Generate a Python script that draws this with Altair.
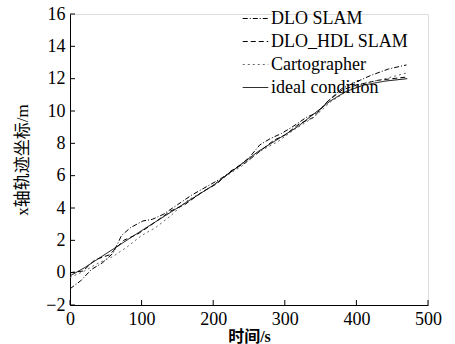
import altair as alt
import pandas as pd

# Trajectory x-coordinate over time for each method
series_names = ["DLO SLAM", "DLO_HDL SLAM", "Cartographer", "ideal condition"]

ideal_t = [0, 20, 100, 200, 263, 317, 363, 385, 410, 440, 471]
ideal_v = [-0.2, 0.3, 2.6, 5.4, 7.5, 9.0, 10.6, 11.2, 11.6, 11.85, 12.0]

dlo_t = [0, 15, 30, 45, 60, 72, 85, 102, 115, 130, 150, 170, 190, 210, 230,
         250, 265, 280, 295, 310, 330, 345, 360, 380, 400, 420, 445, 470]
dlo_v = [-1.0, -0.5, 0.2, 0.6, 1.2, 2.3, 2.8, 3.2, 3.3, 3.6, 4.2, 4.8, 5.3,
         5.8, 6.4, 7.1, 7.9, 8.3, 8.6, 9.0, 9.6, 9.9, 10.6, 11.4, 11.8, 12.2,
         12.6, 12.85]

hdl_t = [0, 18, 35, 55, 75, 95, 115, 140, 160, 185, 205, 225, 245, 265, 285,
         300, 320, 340, 360, 380, 400, 430, 470]
hdl_v = [0.0, 0.1, 0.8, 1.1, 2.0, 2.4, 3.0, 3.8, 4.2, 5.0, 5.5, 6.3, 6.8,
         7.5, 8.2, 8.5, 9.2, 9.6, 10.6, 11.3, 11.6, 11.9, 12.1]

carto_t = [0, 20, 40, 60, 80, 100, 120, 140, 165, 190, 215, 240, 265, 290,
           315, 340, 365, 390, 410, 440, 470]
carto_v = [-0.3, 0.1, 0.6, 1.0, 1.6, 2.3, 2.8, 3.5, 4.5, 5.1, 5.9, 6.6, 7.5,
           8.1, 8.9, 9.6, 10.6, 11.3, 11.7, 12.0, 12.35]

x_ticks = [0, 100, 200, 300, 400, 500]
y_ticks = [-2, 0, 2, 4, 6, 8, 10, 12, 14, 16]

rows = []
for name, ts, vs in [
    ("DLO SLAM", dlo_t, dlo_v),
    ("DLO_HDL SLAM", hdl_t, hdl_v),
    ("Cartographer", carto_t, carto_v),
    ("ideal condition", ideal_t, ideal_v),
]:
    for i, (t, v) in enumerate(zip(ts, vs)):
        rows.append({"series": name, "t": t, "v": v, "order": i})
df = pd.DataFrame(rows)

W, H = 358, 291
SERIF = "Liberation Serif"
MIXED = "Liberation Serif, Noto Sans CJK SC"

x_scale = alt.Scale(domain=[0, 500], nice=False)
y_scale = alt.Scale(domain=[-2, 16], nice=False)

x_axis = alt.Axis(values=x_ticks, labelFont=SERIF, labelFontSize=18,
                  title="时间/s", titleFont=MIXED,
                  titleFontSize=16, titleFontWeight="bold", titlePadding=0)
y_axis = alt.Axis(values=y_ticks, labelFont=SERIF, labelFontSize=18,
                  title="x轴轨迹坐标/m", titleFont=MIXED,
                  titleFontSize=17, titleFontWeight="normal", titlePadding=14)

lines = alt.Chart(df).mark_line().encode(
    x=alt.X("t:Q", scale=x_scale, axis=x_axis),
    y=alt.Y("v:Q", scale=y_scale, axis=y_axis),
    order="order:Q",
    color=alt.Color("series:N",
                    scale=alt.Scale(domain=series_names,
                                    range=["black", "black", "#666666", "black"]),
                    legend=alt.Legend(title=None, orient="none", legendX=172,
                                      legendY=-9, symbolType="stroke",
                                      symbolSize=650, labelFont=SERIF,
                                      labelFontSize=18, labelColor="black",
                                      labelOffset=2, rowPadding=-1, padding=0,
                                      symbolStrokeWidth=1.5)),
    strokeDash=alt.StrokeDash("series:N",
                              scale=alt.Scale(domain=series_names,
                                              range=[[5, 2, 1, 2], [5, 3], [2, 3], [1, 0]]),
                              legend=None),
    strokeWidth=alt.StrokeWidth("series:N",
                                scale=alt.Scale(domain=series_names,
                                                range=[1, 1, 1.3, 2]),
                                legend=None),
)

# Inward-pointing tick marks along both axes
xt = alt.Chart(pd.DataFrame({"t": x_ticks})).mark_rule(color="black", strokeWidth=1).encode(
    x=alt.X("t:Q", scale=x_scale, axis=x_axis), y=alt.value(H), y2=alt.value(H - 5))
yt = alt.Chart(pd.DataFrame({"v": y_ticks})).mark_rule(color="black", strokeWidth=1).encode(
    y=alt.Y("v:Q", scale=y_scale, axis=y_axis), x=alt.value(0), x2=alt.value(5))

chart = alt.layer(lines, xt, yt).properties(
    width=W, height=H,
    autosize=alt.AutoSizeParams(type="none"),
    padding={"left": 70, "top": 14, "right": 27, "bottom": 39},
).configure_view(stroke=None).configure(background="white").configure_axis(
    ticks=False, grid=False, labelOverlap=False, labelFlush=False,
    domainColor="black", domainWidth=1,
    labelFont=SERIF, labelFontSize=18, labelColor="black", labelPadding=5,
    titleColor="black",
)

chart.save("out.html", embed_options={"renderer": "svg", "actions": False})
